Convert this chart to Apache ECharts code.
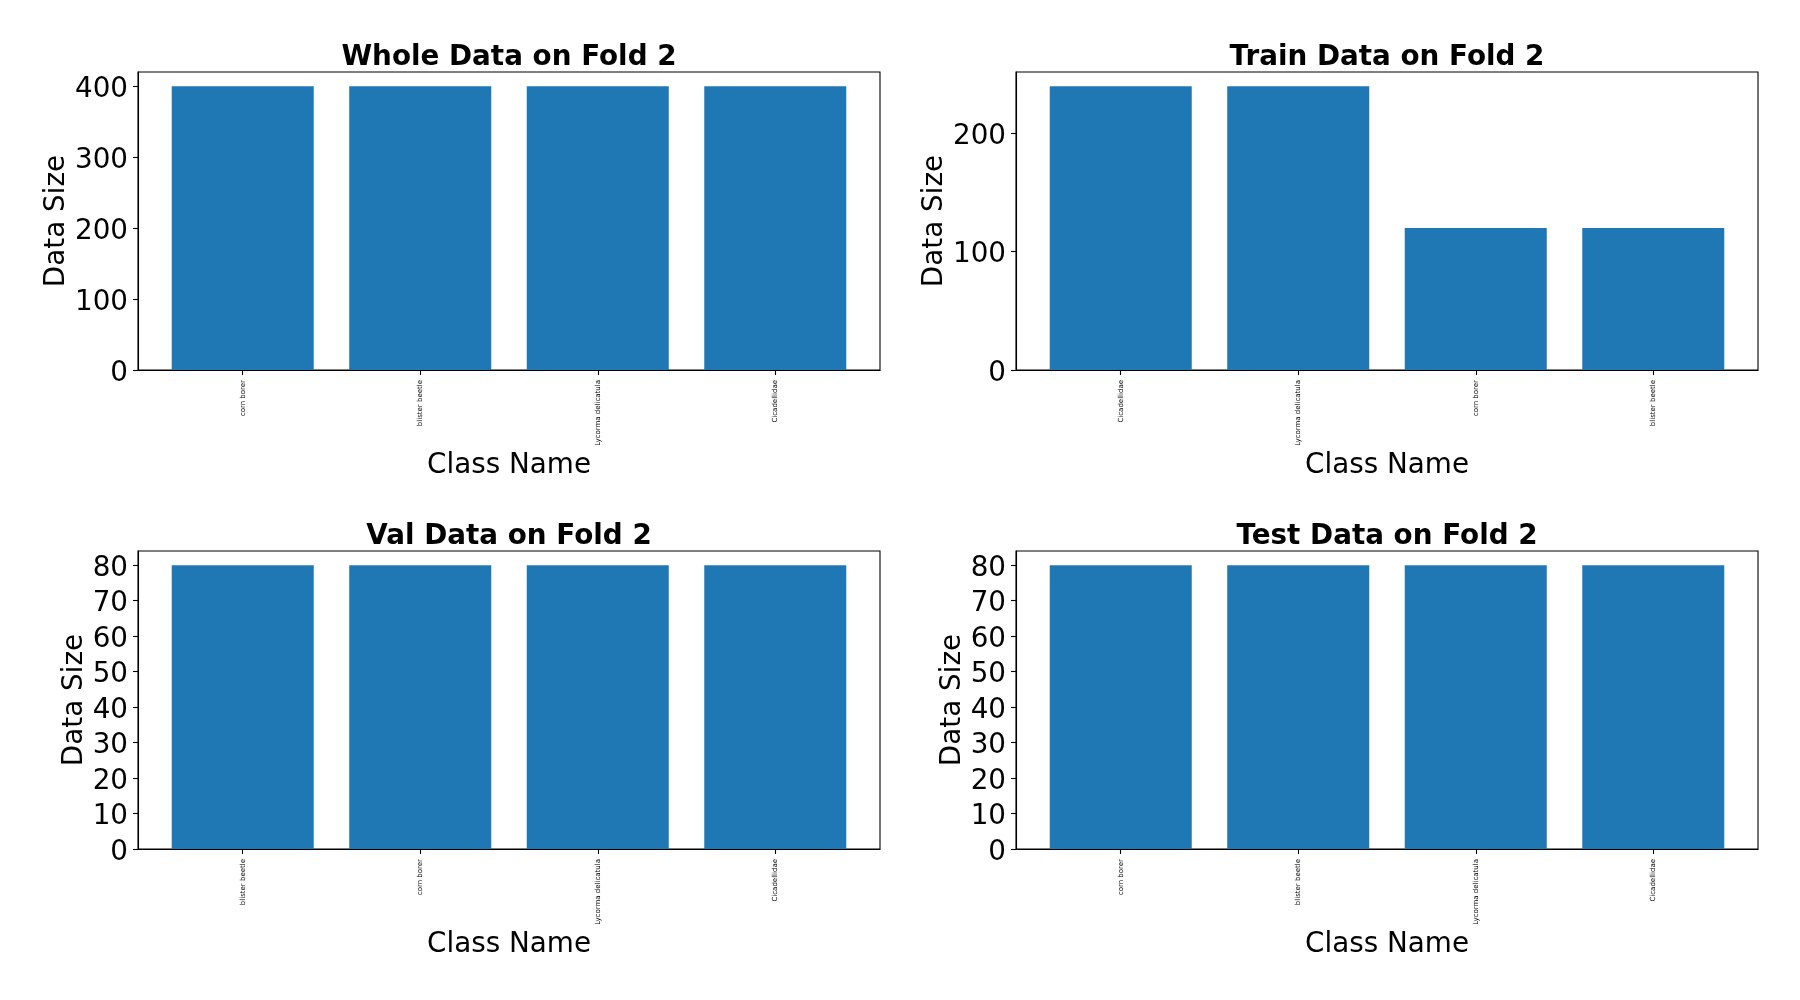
<!DOCTYPE html>
<html>
<head>
<meta charset="utf-8">
<script src="https://cdn.jsdelivr.net/npm/echarts@6/dist/echarts.min.js"></script>
<style>
  html, body { margin: 0; padding: 0; background: #fff; }
  #main { width: 1800px; height: 1000px; }
</style>
</head>
<body>
<div id="main"></div>
<script>
// data per fold split
var wholeClasses = ['corn borer', 'blister beetle', 'Lycorma delicatula', 'Cicadellidae']
var wholeSizes = [400, 400, 400, 400]
var trainClasses = ['Cicadellidae', 'Lycorma delicatula', 'corn borer', 'blister beetle']
var trainSizes = [240, 240, 120, 120]
var valClasses = ['blister beetle', 'corn borer', 'Lycorma delicatula', 'Cicadellidae']
var valSizes = [80, 80, 80, 80]
var testClasses = ['corn borer', 'blister beetle', 'Lycorma delicatula', 'Cicadellidae']
var testSizes = [80, 80, 80, 80]

var wholeTicks = [0, 100, 200, 300, 400]
var trainTicks = [0, 100, 200]
var smallTicks = [0, 10, 20, 30, 40, 50, 60, 70, 80]

var font = 'DejaVu Sans'
var blue = '#1f77b4'
var gridW = 742, gridH = 298
var xMin = -0.59, xMax = 3.59

var panels = [
  { title: 'Whole Data on Fold 2', classes: wholeClasses, sizes: wholeSizes, ticks: wholeTicks, yMax: 420, left: 138, top: 72, nameGap: 66 },
  { title: 'Train Data on Fold 2', classes: trainClasses, sizes: trainSizes, ticks: trainTicks, yMax: 252, left: 1016, top: 72, nameGap: 65 },
  { title: 'Val Data on Fold 2', classes: valClasses, sizes: valSizes, ticks: smallTicks, yMax: 84, left: 138, top: 551, nameGap: 49 },
  { title: 'Test Data on Fold 2', classes: testClasses, sizes: testSizes, ticks: smallTicks, yMax: 84, left: 1016, top: 551, nameGap: 48 }
]

var titles = [], grids = [], xAxes = [], yAxes = [], series = []
panels.forEach(function (p, i) {
  titles.push({
    text: p.title,
    left: p.left + gridW / 2,
    top: p.top - 28,
    textAlign: 'center',
    padding: 0,
    textStyle: { fontFamily: font, fontSize: 27.8, fontWeight: 'bold', color: '#000' }
  })
  grids.push({
    left: p.left, top: p.top, width: gridW, height: gridH,
    show: true, borderColor: '#000', borderWidth: 1.1, backgroundColor: 'transparent'
  })
  var names = p.classes
  xAxes.push({
    type: 'value', gridIndex: i, min: xMin, max: xMax,
    name: 'Class Name', nameLocation: 'middle', nameGap: 82,
    nameTextStyle: { fontFamily: font, fontSize: 27.8, color: '#000' },
    axisLine: { show: true, onZero: false, lineStyle: { color: '#000', width: 1.1 } },
    axisTick: { show: true, length: 5, customValues: [0, 1, 2, 3], lineStyle: { color: '#000', width: 1.1 } },
    axisLabel: {
      customValues: [0, 1, 2, 3], rotate: 90, margin: 10,
      fontFamily: font, fontSize: 7, color: '#000',
      formatter: function (v) { return names[Math.round(v)] }
    },
    splitLine: { show: false }
  })
  yAxes.push({
    type: 'value', gridIndex: i, min: 0, max: p.yMax,
    name: 'Data Size', nameLocation: 'middle', nameGap: p.nameGap,
    nameTextStyle: { fontFamily: font, fontSize: 27.8, color: '#000' },
    axisLine: { show: true, onZero: false, lineStyle: { color: '#000', width: 1.1 } },
    axisTick: { show: true, length: 5, customValues: p.ticks, lineStyle: { color: '#000', width: 1.1 } },
    axisLabel: {
      customValues: p.ticks, margin: 10,
      formatter: function (v) { return '{t|' + v + '}' },
      rich: { t: { fontFamily: font, fontSize: 27.8, color: '#000', padding: [7, 0, 0, 0] } }
    },
    splitLine: { show: false }
  })
  series.push({
    type: 'bar', xAxisIndex: i, yAxisIndex: i,
    barWidth: 0.8 * gridW / (xMax - xMin),
    itemStyle: { color: blue },
    data: p.sizes.map(function (v, k) { return [k, v] })
  })
})

var chart = echarts.init(document.getElementById('main'), null, { renderer: 'canvas' })
chart.setOption({
  animation: false,
  backgroundColor: '#fff',
  title: titles,
  grid: grids,
  xAxis: xAxes,
  yAxis: yAxes,
  series: series
})
</script>
</body>
</html>
